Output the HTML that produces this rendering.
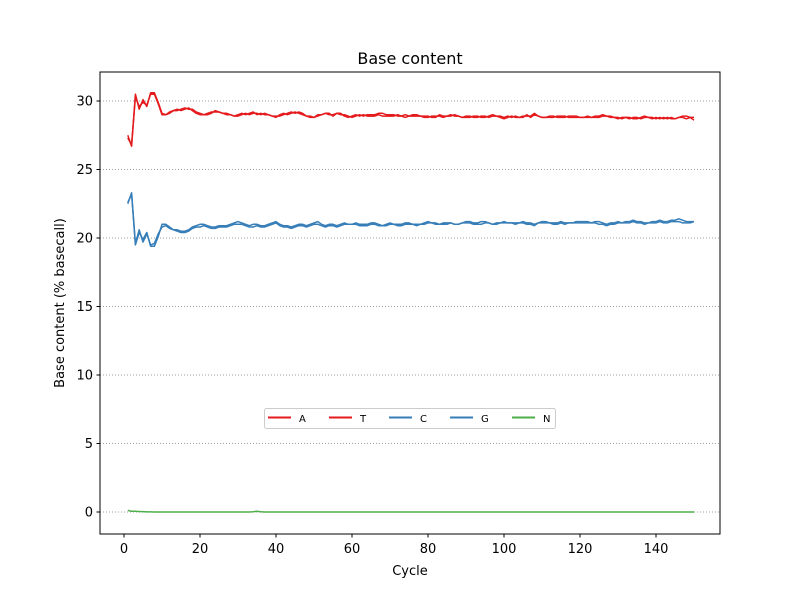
<!DOCTYPE html>
<html><head><meta charset="utf-8"><style>body{margin:0;background:#fff}svg text{font-family:"DejaVu Sans","Liberation Sans",sans-serif}</style></head>
<body>
<svg id="chart" width="800" height="600" viewBox="0 0 800 600" xmlns="http://www.w3.org/2000/svg">
<rect width="800" height="600" fill="#fff"/>
<text x="410" y="64" font-size="16" text-anchor="middle">Base content</text>
<text x="410" y="575" font-size="13" text-anchor="middle">Cycle</text>
<text x="0" y="0" font-size="13" text-anchor="middle" transform="translate(64,303) rotate(-90)">Base content (% basecall)</text>
<g id="grid"></g><g id="series"></g><g id="axes"></g>
<rect x="100" y="72" width="620" height="462" fill="none" stroke="#000" stroke-width="1"/>
<g id="legend"></g>
</svg>
<script>
const cycles=[];for(let i=1;i<=150;i++)cycles.push(i);
const xTicks=[0,20,40,60,80,100,120,140];
const yTicks=[0,5,10,15,20,25,30];
const seriesNames=["A","T","C","G","N"];
const seriesColors=["#e41a1c","#e41a1c","#377eb8","#377eb8","#4daf4a"];
const valuesA=[27.5,26.7,30.5,29.4,30.1,29.6,30.6,30.6,29.9,29.1,29.0,29.1,29.3,29.3,29.4,29.5,29.4,29.4,29.2,29.1,29.0,29.1,29.2,29.2,29.2,29.1,29.1,29.0,28.9,28.9,29.0,29.1,29.0,29.1,29.1,29.0,29.1,29.0,28.9,28.8,29.0,29.1,29.0,29.1,29.2,29.1,29.0,28.9,28.9,28.8,29.0,29.0,29.1,29.0,29.0,29.1,29.0,29.0,28.9,28.8,28.9,29.0,28.9,29.0,29.0,29.0,29.1,29.1,29.0,29.0,29.0,28.9,28.9,29.0,28.9,28.9,28.9,28.9,28.8,28.8,28.9,28.9,28.9,28.8,28.9,29.0,28.9,28.9,28.8,28.8,28.8,28.9,28.9,28.8,28.8,28.9,29.0,28.9,28.8,28.7,28.8,28.9,28.8,28.8,28.9,28.9,28.9,29.1,28.9,28.8,28.8,28.8,28.8,28.9,28.9,28.9,28.8,28.8,28.8,28.8,28.8,28.8,28.8,28.9,28.9,29.0,28.9,28.8,28.8,28.8,28.7,28.8,28.8,28.7,28.7,28.8,28.9,28.8,28.7,28.8,28.7,28.8,28.7,28.8,28.7,28.8,28.9,28.9,28.8,28.8];
const valuesT=[27.3,26.8,30.3,29.6,29.9,29.7,30.5,30.5,29.8,29.0,29.0,29.2,29.3,29.4,29.3,29.4,29.5,29.3,29.1,29.0,29.0,29.0,29.1,29.3,29.2,29.1,29.0,29.0,28.9,29.0,29.1,29.0,29.1,29.2,29.0,29.1,29.0,29.0,28.9,28.9,28.9,29.0,29.1,29.2,29.1,29.2,29.1,28.9,28.8,28.8,28.9,29.0,29.1,29.1,28.9,29.1,29.1,28.9,28.8,28.9,29.0,28.9,29.0,28.9,28.9,28.9,29.0,28.9,28.9,28.9,28.9,29.0,28.9,28.8,28.9,29.0,29.0,28.9,28.9,28.9,28.8,28.8,29.0,28.9,28.9,28.9,29.0,28.9,28.8,28.9,28.9,28.8,28.8,28.9,28.9,28.8,28.9,28.9,28.9,28.8,28.9,28.8,28.9,28.8,28.8,29.0,28.8,29.0,28.9,28.8,28.8,28.9,28.9,28.8,28.8,28.8,28.9,28.9,28.9,28.8,28.8,28.9,28.8,28.8,28.8,28.9,28.9,28.9,28.8,28.7,28.8,28.8,28.7,28.8,28.8,28.7,28.8,28.8,28.8,28.7,28.8,28.7,28.8,28.7,28.7,28.8,28.8,28.7,28.8,28.6];
const valuesC=[22.5,23.3,19.5,20.4,19.9,20.4,19.4,19.4,20.1,21.0,21.0,20.8,20.6,20.6,20.5,20.5,20.6,20.8,20.9,21.0,21.0,20.9,20.8,20.8,20.9,20.9,20.9,21.0,21.1,21.2,21.1,21.0,20.9,21.0,21.0,20.9,20.9,21.0,21.1,21.2,21.0,20.9,20.9,20.8,20.9,21.0,21.0,20.9,21.0,21.1,21.2,21.0,20.9,21.0,21.0,20.9,21.0,21.1,21.0,21.0,21.1,21.0,21.0,21.0,21.1,21.1,21.0,20.9,21.0,21.1,21.0,21.0,21.0,21.1,21.1,21.0,21.0,21.0,21.1,21.2,21.1,21.1,21.0,21.1,21.1,21.1,21.0,21.0,21.1,21.2,21.2,21.1,21.1,21.2,21.2,21.1,21.0,21.1,21.1,21.2,21.1,21.1,21.1,21.1,21.2,21.1,21.1,21.0,21.1,21.2,21.2,21.1,21.1,21.1,21.2,21.1,21.1,21.1,21.2,21.2,21.2,21.2,21.1,21.2,21.2,21.1,21.0,21.1,21.1,21.2,21.1,21.2,21.2,21.3,21.2,21.2,21.1,21.1,21.2,21.2,21.3,21.2,21.2,21.3,21.3,21.4,21.3,21.2,21.2,21.2];
const valuesG=[22.6,23.2,19.6,20.6,19.7,20.3,19.5,19.6,20.3,20.8,20.9,20.7,20.6,20.5,20.4,20.4,20.5,20.7,20.8,20.8,20.9,20.8,20.7,20.7,20.8,20.8,20.8,20.9,21.0,21.0,21.0,20.9,20.8,20.8,20.9,20.8,20.8,20.9,21.0,21.1,20.9,20.8,20.8,20.7,20.8,20.9,20.9,20.8,20.9,21.0,21.0,20.9,20.8,20.9,20.9,20.8,20.9,21.0,21.0,21.0,21.0,20.9,20.9,20.9,21.0,21.0,20.9,20.9,20.9,21.0,21.0,20.9,20.9,21.0,21.0,21.0,20.9,21.0,21.0,21.1,21.1,21.0,21.0,21.0,21.0,21.1,21.0,21.0,21.1,21.1,21.1,21.0,21.0,21.0,21.1,21.1,21.0,21.0,21.1,21.1,21.1,21.1,21.0,21.1,21.1,21.0,21.0,20.9,21.1,21.1,21.1,21.1,21.0,21.0,21.1,21.0,21.1,21.1,21.1,21.1,21.1,21.1,21.1,21.1,21.0,21.0,20.9,21.0,21.0,21.1,21.1,21.1,21.1,21.2,21.1,21.1,21.0,21.1,21.1,21.1,21.2,21.1,21.1,21.2,21.2,21.2,21.1,21.1,21.1,21.2];
const valuesN=[0.12,0.05,0.06,0.04,0.03,0.01,0.01,0,0,0,0,0,0,0,0,0,0,0,0,0,0,0,0,0,0,0,0,0,0,0,0,0,0,0.02,0.06,0.02,0,0,0,0,0,0,0,0,0,0,0,0,0,0,0,0,0,0,0,0,0,0,0,0,0,0,0,0,0,0,0,0,0,0,0,0,0,0,0,0,0,0,0,0,0,0,0,0,0,0,0,0,0,0,0,0,0,0,0,0,0,0,0,0,0,0,0,0,0,0,0,0,0,0,0,0,0,0,0,0,0,0,0,0,0,0,0,0,0,0,0,0,0,0,0,0,0,0,0,0,0,0,0,0,0,0,0,0,0,0,0,0,0,0];
const allValues=[valuesA,valuesT,valuesC,valuesG,valuesN];
const NS="http://www.w3.org/2000/svg";
const xScale=c=>124+c*3.8;
const yScale=v=>512-v*13.7;
function mk(tag,attrs,parent){const e=document.createElementNS(NS,tag);for(const k in attrs)e.setAttribute(k,attrs[k]);parent.appendChild(e);return e;}
const grid=document.getElementById('grid'),axes=document.getElementById('axes'),ser=document.getElementById('series'),leg=document.getElementById('legend');
yTicks.forEach(t=>{const y=yScale(t);
const g=mk('line',{x1:100,x2:720,y1:y,y2:y,stroke:'#808080','stroke-width':0.8,'stroke-dasharray':'1,2'},grid);


const tk=mk('line',{x1:96.5,x2:100,y1:y,y2:y,stroke:'#000'},axes);


const tx=mk('text',{x:93,y:y+4.5,'font-size':13,'text-anchor':'end'},axes);tx.textContent=t;

});
xTicks.forEach(t=>{const x=xScale(t);
const tk=mk('line',{x1:x,x2:x,y1:534,y2:537.5,stroke:'#000'},axes);


const tx=mk('text',{x:x,y:553,'font-size':13,'text-anchor':'middle'},axes);tx.textContent=t;

});
allValues.forEach((vals,si)=>{const d=vals.map((v,i)=>(i?'L':'M')+xScale(cycles[i]).toFixed(1)+','+yScale(v).toFixed(1)).join('');
const p=mk('path',{d:d,fill:'none',stroke:seriesColors[si],'stroke-width':1.5,'stroke-linejoin':'round'},ser);

});
const lb=mk('rect',{x:264.5,y:408.5,width:291,height:20,rx:2,fill:'#fff','fill-opacity':0.8,stroke:'#ccc'},leg);


const lx=[268,329,389,450,512];
seriesNames.forEach((n,i)=>{
const l=mk('line',{x1:lx[i],x2:lx[i]+23,y1:417.5,y2:417.5,stroke:seriesColors[i],'stroke-width':2},leg);


const t=mk('text',{x:lx[i]+31,y:422,'font-size':10},leg);t.textContent=n;

});
</script>
</body></html>
